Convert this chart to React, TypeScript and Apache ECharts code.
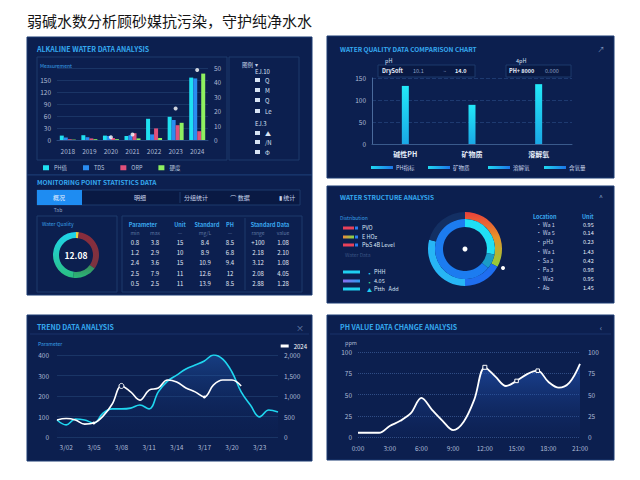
import React, { useEffect, useRef } from 'react';
import * as echarts from 'echarts';

const FONT = '"Noto Sans CJK SC", "Noto Sans", sans-serif';

const pageTitle = '弱碱水数分析顾砂媒抗污染，守护纯净水水';

// ---- panel 1 : grouped bars
const p1Title = 'ALKALINE WATER DATA ANALYSIS';
const p1Categories = ['2018', '2019', '2020', '2021', '2022', '2023', '2024'];
const p1SeriesNames = ['PH值', 'TDS', 'ORP', '硬度'];
const p1Cyan = [11, 12, 11, 10, 53, 58, 156];
const p1Blue = [6, 7, 10, 12, 14, 50, 154];
const p1Pink = [2, 4, 5, 17, 29, 37, 22];
const p1Green = [1, 2, 2, 4, 5, 43, 166];
const p1Dots = [null, null, 7, 14, null, 79, 175];
const p1LeftMax = 180;
const p1LeftStep = 30;
const p1RightMax = 50;
const p1RightStep = 10;
const p1SideHeader = '图例';
const p1SideRows = ['EJ.10', 'Q', 'M', 'Q', 'Le', 'EJ.3', '▲', '/N', 'Φ'];

// ---- panel 2 : three bars
const p2Title = 'WATER QUALITY DATA COMPARISON CHART';
const p2Categories = ['碱性PH', '矿物质', '溶解氧'];
const p2Values = [132, 89, 136];
const p2Max = 150;
const p2Step = 50;
const p2Legend = ['PH指标', '矿物质', '溶解氧', '含氧量'];

// ---- panel 3 : donut + table
const p3Title = 'MONITORING POINT STATISTICS DATA';
const p3Tabs = ['概况', '明细', '分组统计', '⌒ 数据', '▮ 统计'];
const p3DonutNames = ['优', '差', '良', '中'];
const p3DonutValues = [2, 33, 17, 48];
const p3Center = '12.08';
const p3Headers = ['Parameter', 'Unit', 'Standard', 'PH', 'Standard Data'];
const p3SubHeaders = ['min', 'max', '—', 'mg/L', '—', 'range', 'value'];
const p3Rows = [
  ['0.8', '3.8', '15', '8.4', '8.5', '+100', '1.08'],
  ['1.2', '2.9', '10', '8.9', '6.8', '2.18', '2.10'],
  ['2.4', '3.6', '15', '10.9', '9.4', '3.12', '1.08'],
  ['2.5', '7.9', '11', '12.6', '12', '2.08', '4.05'],
  ['0.5', '2.5', '11', '13.9', '8.5', '2.88', '1.28'],
];

// ---- panel 4 : nested rings
const p4Title = 'WATER STRUCTURE ANALYSIS';
const p4OuterNames = ['PH', 'ORP', 'TDS', '其他'];
const p4OuterValues = [33, 17, 29, 21];
const p4InnerNames = ['Wa1', 'Wa2', 'Wa3'];
const p4InnerValues = [28, 8, 64];
const p4LegendTop = ['PVO', 'E HOz', 'PbS 4B Level'];
const p4LegendBottom = ['PHH', '4.05', 'Ptth   Add'];
const p4TableNames = ['Wa 1', 'Wa 5', 'pH3', 'Wa 1', 'Sa 3', 'Pa 3', 'Wa2', 'Ab'];
const p4TableValues = ['0.95', '0.14', '0.23', '1.43', '0.42', '0.98', '0.95', '1.45'];

// ---- panel 5 : two lines
const p5Title = 'TREND DATA ANALYSIS';
const p5Days = ['3/01', '3/02', '3/03', '3/04', '3/05', '3/06', '3/07', '3/08', '3/09', '3/10', '3/11', '3/12', '3/13', '3/14', '3/15', '3/16', '3/17', '3/18', '3/19', '3/20', '3/21', '3/22', '3/23', '3/24', '3/25'];
const p5Cyan = [83, 59, 88, 83, 68, 117, 137, 137, 141, 156, 137, 220, 273, 302, 332, 351, 371, 400, 380, 317, 220, 156, 98, 132, 122];
const p5White = [83, 90, 83, 63, 68, 102, 161, 249, 220, 180, 229, 239, 278, 268, 239, 220, 195, 254, 278, 278, 249, null, null, null, null];
const p5Max = 400;
const p5Step = 100;
const p5RightMax = 2000;
const p5RightStep = 500;
const p5LegendName = '2024';

// ---- panel 6 : single area line
const p6Title = 'PH VALUE DATA CHANGE ANALYSIS';
const p6Hours = ['0:00', '1:00', '2:00', '3:00', '4:00', '5:00', '6:00', '7:00', '8:00', '9:00', '10:00', '11:00', '12:00', '13:00', '14:00', '15:00', '16:00', '17:00', '18:00', '19:00', '20:00', '21:00'];
const p6Values = [5, 5, 5, 13, 19, 28, 46, 32, 19, 8, 18, 44, 82, 71, 60, 66, 74, 78, 65, 58, 64, 86];
const p6Max = 100;
const p6Step = 25;

const lin = (stops: [number, string][], x2 = 0, y2 = 1) => ({
  type: 'linear', x: 0, y: 0, x2, y2,
  colorStops: stops.map(([offset, color]) => ({ offset, color })),
});

const T = (x: number, y: number, text: string, fill = '#c8d4ea', size = 6.5, align = 'left', weight: any = 'normal') => ({
  type: 'text', x, y, z: 20, silent: true,
  style: { text, fill, fontSize: size, fontFamily: FONT, fontWeight: weight, align, textAlign: align, verticalAlign: 'middle', textVerticalAlign: 'middle' },
});
const R = (x: number, y: number, w: number, h: number, fill: any, stroke: any = null, z = 1) => ({
  type: 'rect', z, silent: true, shape: { x, y, width: w, height: h },
  style: { fill, stroke, lineWidth: 1 },
});
const L = (x1: number, y1: number, x2: number, y2: number, stroke: any, z = 2) => ({
  type: 'line', z, silent: true, shape: { x1, y1, x2, y2 }, style: { stroke, lineWidth: 1 },
});
const C = (cx: number, cy: number, r: number, fill: string) => ({
  type: 'circle', z: 30, silent: true, shape: { cx, cy, r }, style: { fill },
});

const TITLE_C = '#35a9ef';
const PANEL = '#0c1f4f';
const EDGE = '#1b3a72';
const FRAME = '#1c3a6c';
const LAB = { color: '#aebbd6', fontSize: 6.5, fontFamily: FONT };

function buildGraphic() {
  const g: any[] = [];
  g.push(T(27, 20, pageTitle, '#151515', 15, 'left'));
  // panels
  g.push(R(27, 37, 285, 138, PANEL, EDGE, 0));
  g.push(R(27, 175, 285, 120, PANEL, EDGE, 0));
  g.push(R(27, 315, 285, 146, PANEL, EDGE, 0));
  g.push(R(327, 36, 287, 142, PANEL, EDGE, 0));
  g.push(R(327, 186, 287, 117, PANEL, EDGE, 0));
  g.push(R(327, 315, 287, 145, PANEL, EDGE, 0));

  // panel 1
  g.push(T(37, 49, p1Title, TITLE_C, 7, 'left', 'bold'));
  g.push(R(37, 57, 190, 103, 'transparent', FRAME));
  g.push(R(229, 57, 70, 103, 'transparent', FRAME));
  g.push(T(40, 65, 'Measurement', '#3aa0e8', 5));
  g.push(T(242, 65, p1SideHeader + '  ▾', '#c8d4ea', 5.5));
  const sideY = [71, 80, 90, 100, 111, 123, 133, 142, 152];
  p1SideRows.forEach((t, i) => {
    const noIcon = i === 0 || i === 5;
    if (!noIcon) g.push(R(255, sideY[i] - 2, 5, 4, '#d8e4f5', null, 3));
    g.push(T(noIcon ? 255 : 265, sideY[i], t, '#d8e4f5', 6));
  });

  // panel 2
  g.push(T(340, 49, p2Title, TITLE_C, 6.5, 'left', 'bold'));
  g.push(T(601, 49, '↗', '#8aa0c8', 7, 'center'));
  g.push(T(385, 61, 'pH', '#d8e4f5', 5.5));
  g.push(R(378, 65, 97, 12, 'rgba(8,22,60,0.6)', FRAME));
  g.push(T(382, 71, 'DrySoft', '#e6eefa', 5.5, 'left', 'bold'));
  g.push(T(413, 71, '10.1', '#8ea2c6', 5.5));
  g.push(T(443, 71, '~', '#8ea2c6', 5.5));
  g.push(T(455, 71, '14.0', '#e6eefa', 5.5, 'left', 'bold'));
  g.push(T(516, 61, '4pH', '#d8e4f5', 5.5));
  g.push(R(506, 65, 65, 12, 'rgba(8,22,60,0.6)', FRAME));
  g.push(T(509, 71, 'PH+ 8000', '#e6eefa', 5.5, 'left', 'bold'));
  g.push(T(545, 71, '0.000', '#8ea2c6', 5.5));
  const p2lx = [371, 428, 488, 544];
  p2Legend.forEach((t, i) => {
    g.push(R(p2lx[i], 166, 22, 3, lin([[0, '#1fd8f0'], [1, '#1c74e8']], 1, 0), null, 3));
    g.push(T(p2lx[i] + 25, 168, t, '#c8d4ea', 5.5));
  });

  // panel 3
  g.push(T(37, 182, p3Title, TITLE_C, 6.5, 'left', 'bold'));
  g.push(R(37, 190, 263, 15, 'rgba(8,22,60,0.6)', FRAME));
  g.push(R(37, 190, 45, 15, '#1e8cf2', null, 2));
  g.push(L(37, 190, 230, 190, lin([[0, '#3fc6ff'], [1, 'rgba(40,140,240,0)']], 1, 0), 3));
  const tabX = [59, 140, 196, 240, 287];
  p3Tabs.forEach((t, i) => g.push(T(tabX[i], 197, t, i === 0 ? '#e8f2ff' : '#c8d4ea', 6, 'center')));
  g.push(L(180, 192, 180, 203, FRAME));
  g.push(T(58, 209, 'Tab', '#8ea2c6', 5, 'center'));
  g.push(R(37, 216, 80, 76, 'transparent', FRAME));
  g.push(T(42, 223, 'Water Quality', '#3aa0e8', 5));
  g.push(T(76, 255, p3Center, '#ffffff', 8.5, 'center', 'bold'));
  g.push(R(122, 216, 180, 76, 'transparent', FRAME));
  g.push(L(245, 218, 245, 290, FRAME));
  const hx = [143, 180, 207, 230, 270];
  p3Headers.forEach((t, i) => g.push(T(hx[i], 225, t, '#3aa8ee', 5.5, 'center', 'bold')));
  const cx = [135, 155, 180, 205, 230, 258, 283];
  p3SubHeaders.forEach((t, i) => g.push(T(cx[i], 232, t, '#5f78a3', 5, 'center')));
  const ry = [242, 252, 262, 273, 283];
  p3Rows.forEach((row, r) => row.forEach((t, c) => g.push(T(cx[c], ry[r], t, '#e0e8f5', 6, 'center'))));

  // panel 4
  g.push(T(340, 197, p4Title, TITLE_C, 6.5, 'left', 'bold'));
  g.push(T(601, 197, '^', '#8aa0c8', 7, 'center'));
  g.push(T(340, 217, 'Distribution', '#3aa0e8', 5));
  const topFill = ['#e8415a', lin([[0, '#f08a3a'], [1, '#7cd64a']], 1, 0), '#e8415a'];
  [228, 237, 245].forEach((y, i) => {
    g.push(R(343, y - 1.5, 11, 3, topFill[i], null, 3));
    g.push(R(355, y - 1.5, 3, 3, '#2a7ef0', null, 3));
    g.push(T(362, y, p4LegendTop[i], '#d8e4f5', 5.5));
  });
  g.push(T(345, 254, 'Water Data', '#3a5484', 5));
  const botFill = ['#1fd0f0', lin([[0, '#8a6cf0'], [1, '#2a9cf0']], 1, 0), '#1fd0f0'];
  const botMark = ['▪', '▪', '▲'];
  [272, 281, 289].forEach((y, i) => {
    g.push(R(343, y - 1.5, 17, 3, botFill[i], null, 3));
    g.push(T(367, y, botMark[i], i === 1 ? '#3ad08a' : '#1fd0f0', 5));
    g.push(T(374, y, p4LegendBottom[i], '#d8e4f5', 5.5));
  });
  g.push(T(533, 217, 'Location', '#3aa8ee', 5.5, 'left', 'bold'));
  g.push(T(582, 217, 'Unit', '#3aa8ee', 5.5, 'left', 'bold'));
  const ty = [225, 233, 242, 252, 261, 270, 279, 288];
  p4TableNames.forEach((t, i) => {
    g.push(T(536, ty[i], '· ' + t, '#c8d4ea', 5.5));
    g.push(T(583, ty[i], p4TableValues[i], '#e6eefa', 5.5));
  });
  g.push(C(465, 249, 2.5, '#ffffff'));
  g.push(C(503, 268, 2, '#ffffff'));

  // panel 5
  g.push(T(37, 327, p5Title, TITLE_C, 7, 'left', 'bold'));
  g.push(T(300, 327, '×', '#6f86b0', 8, 'center'));
  g.push(L(30, 334, 309, 334, '#19336a'));
  g.push(T(38, 343, 'Parameter', '#3aa0e8', 5));

  // panel 6
  g.push(T(340, 327, p6Title, TITLE_C, 7, 'left', 'bold'));
  g.push(T(601, 327, '‹', '#8aa0c8', 8, 'center'));
  g.push(L(330, 334, 611, 334, '#19336a'));
  g.push(T(345, 343, 'ppm', '#aebbd6', 5.5));
  return g;
}

function buildOption(): any {
  const ring = { color: PANEL, borderColor: '#ffffff', borderWidth: 1 };
  const p5CyanData = p5Cyan.map((v, i) => (i === 17 ? { value: v, symbol: 'circle', symbolSize: 5, itemStyle: { color: '#fff' } } : v));
  const whiteMarks: Record<number, [string, number, boolean]> = { 4: ['circle', 3, false], 7: ['circle', 5, true], 12: ['circle', 5, true], 16: ['circle', 3, false] };
  const p5WhiteData = p5White.map((v, i) => {
    const m = whiteMarks[i];
    if (!m || v == null) return v;
    return { value: v, symbol: m[0], symbolSize: m[1], itemStyle: m[2] ? ring : { color: '#fff' } };
  });
  const p6Marks: Record<number, number> = { 12: 4, 15: 3.5, 17: 3.5 };
  const p6Data = p6Values.map((v, i) => (p6Marks[i] ? { value: v, symbol: 'rect', symbolSize: p6Marks[i], itemStyle: ring } : v));

  const barCommon = { type: 'bar', xAxisIndex: 0, yAxisIndex: 0, barWidth: 4, barGap: '0%', silent: true };

  return {
    animation: false,
    backgroundColor: '#ffffff',
    textStyle: { fontFamily: FONT },
    grid: [
      { left: 57, top: 68, width: 151, height: 72, outerBoundsMode: 'none' },
      { left: 372, top: 78, width: 200, height: 66, outerBoundsMode: 'none' },
      { left: 57, top: 355, width: 221, height: 82, outerBoundsMode: 'none' },
      { left: 358, top: 352, width: 222, height: 85, outerBoundsMode: 'none' },
    ],
    legend: [
      {
        data: p1SeriesNames, left: 38, top: 160, itemWidth: 6, itemHeight: 5, itemGap: 16, icon: 'rect',
        textStyle: { color: '#b8c6de', fontSize: 5.5, fontFamily: FONT }, selectedMode: false,
      },
      {
        data: [p5LegendName], right: 328, top: 338, itemWidth: 8, itemHeight: 3, icon: 'rect',
        textStyle: { color: '#ffffff', fontSize: 6, fontFamily: FONT }, selectedMode: false,
      },
    ],
    xAxis: [
      { type: 'category', gridIndex: 0, data: p1Categories, axisLine: { lineStyle: { color: '#2b4a80' } }, axisTick: { show: false }, axisLabel: { ...LAB, margin: 8 } },
      { type: 'category', gridIndex: 1, data: p2Categories, axisLine: { lineStyle: { color: '#3a5a8c' } }, axisTick: { show: false }, axisLabel: { ...LAB, color: '#e6eefa', fontSize: 7, fontWeight: 'bold', margin: 6 } },
      { type: 'category', gridIndex: 2, data: p5Days, boundaryGap: false, axisLine: { show: false }, axisTick: { show: false }, axisLabel: { ...LAB, margin: 7, interval: (i: number) => i % 3 === 1 } },
      { type: 'category', gridIndex: 3, data: p6Hours, boundaryGap: false, axisLine: { show: false }, axisTick: { show: false }, axisLabel: { ...LAB, margin: 8, interval: (i: number) => i % 3 === 0 } },
    ],
    yAxis: [
      { type: 'value', gridIndex: 0, min: 0, max: p1LeftMax, interval: p1LeftStep, axisLabel: { ...LAB, margin: 6, showMaxLabel: false }, splitLine: { lineStyle: { color: '#1a3566' } }, axisLine: { show: false } },
      { type: 'value', gridIndex: 0, position: 'right', min: 0, max: p1RightMax, interval: p1RightStep, axisLabel: { ...LAB, margin: 6 }, splitLine: { show: false }, axisLine: { show: false } },
      { type: 'value', gridIndex: 1, min: 0, max: p2Max, interval: p2Step, axisLabel: { ...LAB, margin: 6 }, splitLine: { lineStyle: { color: '#1e3a70', type: 'dashed' } }, axisLine: { show: true, lineStyle: { color: '#4a6a9c' } } },
      { type: 'value', gridIndex: 2, min: 0, max: p5Max, interval: p5Step, axisLabel: { ...LAB, margin: 8 }, splitLine: { lineStyle: { color: '#1a3566' } }, axisLine: { show: false } },
      { type: 'value', gridIndex: 2, position: 'right', min: 0, max: p5RightMax, interval: p5RightStep, axisLabel: { ...LAB, margin: 6 }, splitLine: { show: false }, axisLine: { show: false } },
      { type: 'value', gridIndex: 3, min: 0, max: p6Max, interval: p6Step, axisLabel: { ...LAB, margin: 6 }, splitLine: { lineStyle: { color: 'rgba(90,130,200,0.45)', type: 'dotted' } }, axisLine: { show: false } },
      { type: 'value', gridIndex: 3, position: 'right', min: 0, max: p6Max, interval: p6Step, axisLabel: { ...LAB, margin: 8 }, splitLine: { show: false }, axisLine: { show: false } },
    ],
    series: [
      { ...barCommon, name: p1SeriesNames[0], data: p1Cyan, itemStyle: { color: '#1fe0f0' } },
      { ...barCommon, name: p1SeriesNames[1], data: p1Blue, itemStyle: { color: '#2a8cf0' } },
      { ...barCommon, name: p1SeriesNames[2], data: p1Pink, itemStyle: { color: '#e0507a' } },
      { ...barCommon, name: p1SeriesNames[3], data: p1Green, itemStyle: { color: '#8ef060' } },
      { type: 'scatter', xAxisIndex: 0, yAxisIndex: 0, data: p1Dots, symbolSize: 4, itemStyle: { color: '#ffffff' }, silent: true, z: 5 },
      {
        type: 'bar', name: 'p2', xAxisIndex: 1, yAxisIndex: 2, data: p2Values, barWidth: 7, silent: true,
        itemStyle: { color: lin([[0, '#22e8f8'], [1, '#1aa8e6']]) },
      },
      {
        type: 'pie', name: 'p3', center: [76, 255], radius: [17, 23], startAngle: 90, clockwise: true, silent: true,
        label: { show: false }, labelLine: { show: false },
        data: p3DonutNames.map((n, i) => ({
          name: n, value: p3DonutValues[i],
          itemStyle: { color: ['#e8d040', lin([[0, '#8a2c3c'], [1, '#7a3440']]), lin([[0, '#3a8a5a'], [1, '#2ab87a']]), lin([[0, '#1fd6ee'], [1, '#2abf80']])][i] },
        })),
      },
      {
        type: 'pie', name: 'p4o', center: [465, 249], radius: [30, 37], startAngle: 90, clockwise: true, silent: true,
        label: { show: false }, labelLine: { show: false },
        data: p4OuterNames.map((n, i) => ({
          name: n, value: p4OuterValues[i],
          itemStyle: { color: [lin([[0, '#e8403a'], [0.45, '#e8902a'], [1, '#8ed03a']]), '#1f6ef0', '#27b6f5', '#132f63'][i] },
        })),
      },
      {
        type: 'pie', name: 'p4i', center: [465, 249], radius: [22, 30], startAngle: 90, clockwise: true, silent: true,
        label: { show: false }, labelLine: { show: false },
        data: p4InnerNames.map((n, i) => ({
          name: n, value: p4InnerValues[i],
          itemStyle: { color: ['#20e0f5', '#1a9cc8', '#1c7cf0'][i] },
        })),
      },
      {
        type: 'line', name: 'p5c', xAxisIndex: 2, yAxisIndex: 3, data: p5CyanData, smooth: 0.4, symbol: 'none', showSymbol: true, silent: true,
        lineStyle: { color: '#1fd6ef', width: 1.6 },
        areaStyle: { color: lin([[0, 'rgba(40,110,210,0.55)'], [1, 'rgba(15,40,100,0.05)']]) },
      },
      {
        type: 'line', name: p5LegendName, xAxisIndex: 2, yAxisIndex: 3, data: p5WhiteData, smooth: 0.4, symbol: 'none', showSymbol: true, silent: true,
        itemStyle: { color: '#ffffff' },
        lineStyle: { color: '#ffffff', width: 1.6 },
      },
      {
        type: 'line', name: 'p6', xAxisIndex: 3, yAxisIndex: 5, data: p6Data, smooth: 0.35, symbol: 'none', showSymbol: true, silent: true,
        lineStyle: { color: '#ffffff', width: 1.8 },
        areaStyle: { color: lin([[0, 'rgba(40,100,210,0.75)'], [1, 'rgba(20,50,120,0.15)']]) },
      },
    ],
    graphic: { elements: buildGraphic() },
  };
}

export default function App() {
  const ref = useRef<HTMLDivElement>(null);
  useEffect(() => {
    const chart = echarts.init(ref.current!, null, { renderer: 'svg' });
    chart.setOption(buildOption());
    return () => chart.dispose();
  }, []);
  return <div ref={ref} style={{ position: 'absolute', left: 0, top: 0, width: 640, height: 480, background: '#fff' }} />;
}
